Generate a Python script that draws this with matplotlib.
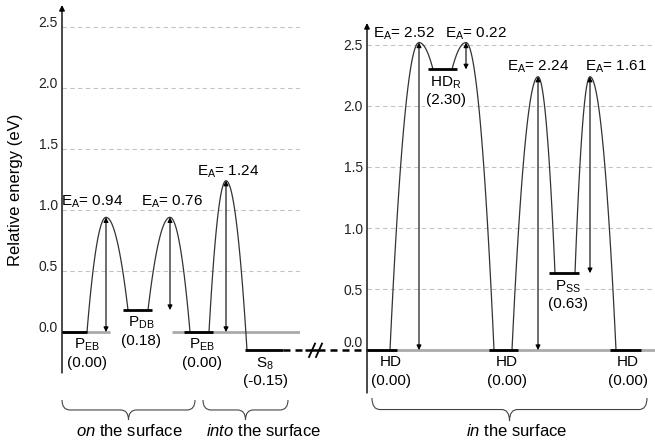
import numpy as np
import matplotlib
matplotlib.use('Agg')
import matplotlib.pyplot as plt
from matplotlib.path import Path
from matplotlib.patches import PathPatch

plt.rcParams['font.family'] = 'Liberation Sans'
plt.rcParams['mathtext.fontset'] = 'custom'
plt.rcParams['mathtext.rm'] = 'Liberation Sans'
plt.rcParams['mathtext.it'] = 'Liberation Sans:italic'
plt.rcParams['mathtext.default'] = 'regular'

# --------------------------- data ---------------------------------
# on / into the surface
left_names = ['P$_{EB}$', 'P$_{DB}$', 'P$_{EB}$', 'S$_8$']
left_energy = [0.00, 0.18, 0.00, -0.15]
left_ea = [0.94, 0.76, 1.24]          # barrier i : level i -> level i+1

# in the surface
right_names = ['HD', 'HD$_R$', 'HD', 'P$_{SS}$', 'HD']
right_energy = [0.00, 2.30, 0.00, 0.63, 0.00]
right_ea = [2.52, 0.22, 2.24, 1.61]

group_labels = ['$\\it{on}$ the surface', '$\\it{into}$ the surface', '$\\it{in}$ the surface']
yticks = [0.0, 0.5, 1.0, 1.5, 2.0, 2.5]

# --------------------------- layout -------------------------------
# reaction coordinate (arbitrary units) for levels / barriers / labels
left_spans = [(0, 25), (61, 90), (122, 151), (183, 221)]
left_barrier_x = [(25, 44, 66), (86, 108, 128), (147, 164, 185)]
left_label_x = [25, 79, 140, 203]
left_ea_x = [30, 110, 166]
left_ea_dy = [0.10, 0.10, 0.045]

right_spans = [(0, 30), (61, 90), (122, 151), (182, 212), (243, 274)]
right_barrier_x = [(23, 52, 66), (85, 99, 127), (145, 171, 188), (208, 223, 249)]
right_label_x = [24, 79, 140, 201, 261]
right_ea_x = [37, 109, 171, 249]
right_ea_dy = [0.04, 0.04, 0.05, 0.05]


def barrier(ax, xs, xp, xe, ys, yp, ye):
    x1 = np.linspace(xs, xp, 40)
    y1 = yp - (yp - ys) * ((xp - x1) / (xp - xs)) ** 2
    x2 = np.linspace(xp, xe, 40)
    y2 = yp - (yp - ye) * ((x2 - xp) / (xe - xp)) ** 2
    ax.plot(np.r_[x1, x2], np.r_[y1, y2], color='#333333', lw=0.9, zorder=2)


def brace(ax, x0, x1, ytop, ybot, r=8):
    xm = (x0 + x1) / 2
    ym = (ytop + ybot) / 2
    verts = [(x0, ytop), (x0, ym), (x0 + r, ym), (xm - r, ym), (xm, ym), (xm, ybot),
             (xm, ym), (xm + r, ym), (x1 - r, ym), (x1, ym), (x1, ytop)]
    codes = [Path.MOVETO, Path.CURVE3, Path.CURVE3, Path.LINETO, Path.CURVE3, Path.CURVE3,
             Path.CURVE3, Path.CURVE3, Path.LINETO, Path.CURVE3, Path.CURVE3]
    ax.add_patch(PathPatch(Path(verts, codes), fc='none', ec='#444444', lw=0.8, clip_on=False))


def panel(ax, names, energy, ea, spans, bx, label_x, ea_x, ea_dy, xmax, ylo):
    ax.set_xlim(0, xmax)
    ax.set_ylim(ylo, 2.68)
    for s in ax.spines.values():
        s.set_visible(False)
    ax.set_xticks([])
    ax.set_yticks(yticks)
    ax.set_yticklabels(['%.1f' % t for t in yticks])
    ax.tick_params(axis='y', length=0, pad=3, labelsize=10, labelcolor='#222222')
    for t in yticks[1:]:
        ax.axhline(t, color='#c4c4c4', lw=0.8, ls=(0, (4, 3)), zorder=0)
    ax.annotate('', xy=(0, 2.68), xytext=(0, ylo), annotation_clip=False,
                arrowprops=dict(arrowstyle='-|>', color='k', lw=1, mutation_scale=8,
                                shrinkA=0, shrinkB=0))
    # levels
    for name, e, (x0, x1), lx in zip(names, energy, spans, label_x):
        ax.hlines(e, x0, x1, color='k', lw=2, zorder=3)
        ax.annotate(name, (lx, e), xytext=(0, -3.6), textcoords='offset points',
                    ha='center', va='top', fontsize=11,
                    bbox=dict(fc='white', ec='none', pad=0.5))
        ax.annotate('(%.2f)' % e, (lx, e), xytext=(0, -17), textcoords='offset points',
                    ha='center', va='top', fontsize=11,
                    bbox=dict(fc='white', ec='none', pad=0.5))
    # barriers and activation energies
    for i, (a, (xs, xp, xe)) in enumerate(zip(ea, bx)):
        ys, ye = energy[i], energy[i + 1]
        yp = ys + a
        barrier(ax, xs, xp, xe, ys, yp, ye)
        ax.annotate('', xy=(xp, yp), xytext=(xp, ys),
                    arrowprops=dict(arrowstyle='<|-|>', color='k', lw=0.8,
                                    mutation_scale=7, shrinkA=0, shrinkB=0))
        ax.text(ea_x[i], yp + ea_dy[i], 'E$_A$= %.2f' % a, ha='center', va='baseline',
                fontsize=11)


fig = plt.figure(figsize=(6.55, 4.41), dpi=100)
ax1 = fig.add_axes([62 / 655, 68 / 441, 238 / 655, 368 / 441])
ax2 = fig.add_axes([367 / 655, 48 / 441, 288 / 655, 370 / 441])

# zero reference line
ax1.hlines(0, 0, 48, color='#aaaaaa', lw=2, zorder=1)
ax1.hlines(0, 110, 238, color='#aaaaaa', lw=2, zorder=1)
ax2.hlines(0, 0, 288, color='#aaaaaa', lw=2, zorder=1)

panel(ax1, left_names, left_energy, left_ea, left_spans, left_barrier_x,
      left_label_x, left_ea_x, left_ea_dy, 238, -0.336)
panel(ax2, right_names, right_energy, right_ea, right_spans, right_barrier_x,
      right_label_x, right_ea_x, right_ea_dy, 288, -0.352)

for lab in ax1.get_yticklabels():
    lab.set_verticalalignment('baseline')
ax2.get_yticklabels()[0].set_verticalalignment('bottom')

# broken connection S8 -> HD
s8 = left_energy[-1]
ax1.plot([221, 242], [s8, s8], color='k', lw=1.8, ls=(0, (2.8, 2)), clip_on=False)
ax1.plot([243, 263], [s8, s8], color='k', lw=1.8, clip_on=False, solid_capstyle='butt')
ax1.plot([268, 305], [s8, s8], color='k', lw=1.8, ls=(0, (2.8, 2)), clip_on=False)
for xb in [250, 257]:
    ax1.plot([xb - 3, xb + 3], [s8 - 0.055, s8 + 0.055], color='k', lw=1.3, clip_on=False)

# braces and group labels
brace(ax1, 0, 133, -0.557, -0.721)
brace(ax1, 141, 226, -0.557, -0.721)
brace(ax2, 5, 280, -0.393, -0.582)
ax1.text(67, -0.81, group_labels[0], ha='center', va='center', fontsize=12)
ax1.text(201, -0.81, group_labels[1], ha='center', va='center', fontsize=12)
ax2.text(150, -0.664, group_labels[2], ha='center', va='center', fontsize=12)

fig.text(16 / 655, 1 - 190 / 441, 'Relative energy (eV)', rotation=90,
         ha='center', va='center', fontsize=12)

plt.savefig('out.png', dpi=100)
plt.close()
